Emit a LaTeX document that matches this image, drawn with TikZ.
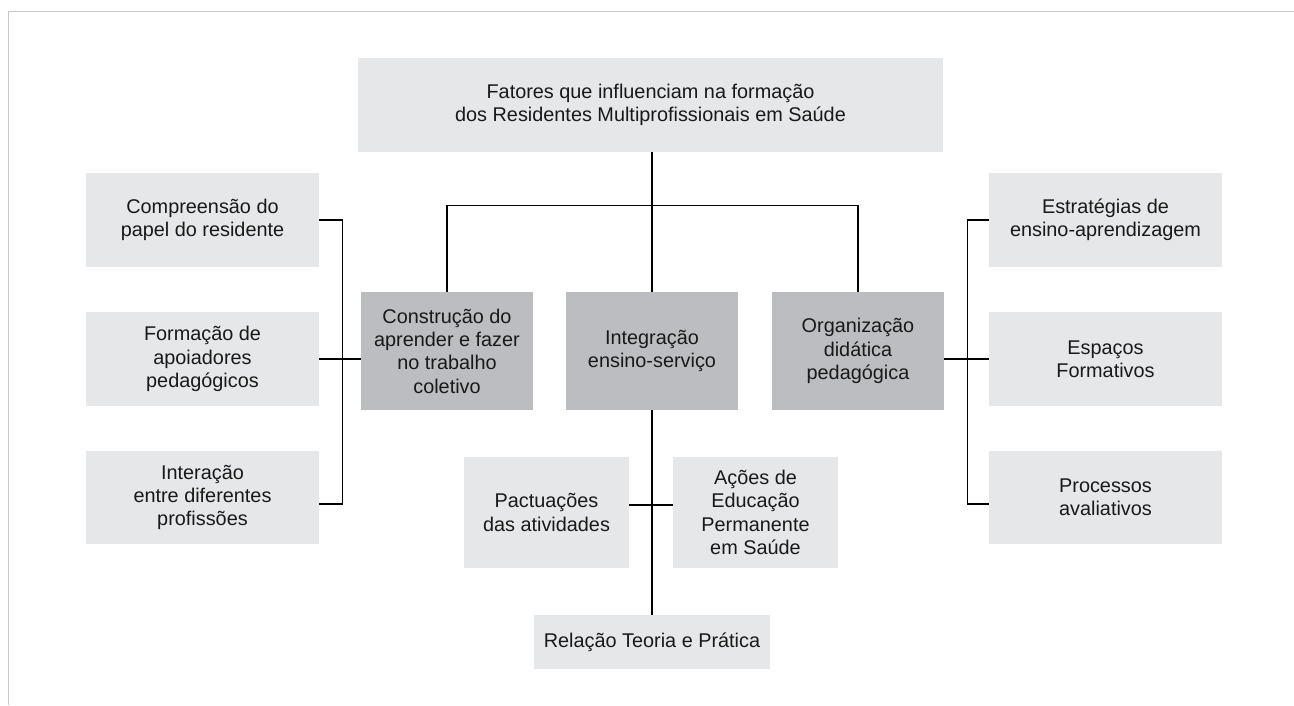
\documentclass[tikz,border=0pt]{standalone}
\usepackage{fontspec}
\setmainfont{Liberation Sans}
\definecolor{boxlight}{HTML}{E6E7E8}
\definecolor{boxdark}{HTML}{BCBDC0}
\definecolor{framegray}{HTML}{C8C8C8}
\tikzset{
  box/.style={rectangle, align=center, inner sep=0pt, text=black!90, font=\fontsize{11.3}{13.3}\selectfont},
  light/.style={box, fill=boxlight},
  dark/.style={box, fill=boxdark, minimum width=3.44cm, minimum height=2.36cm},
  side/.style={light, minimum width=4.66cm, minimum height=1.87cm},
  link/.style={draw, line width=0.7pt, black}
}
\begin{document}
\begin{tikzpicture}
      \useasboundingbox (0,0) rectangle (25.88,-14.1);
      \draw[framegray, line width=0.9pt] (0.17,-14.1) -- (0.17,-0.23) -- (25.88,-0.23);
      \node[light, minimum width=11.7cm, minimum height=1.88cm] (1) at (13.01,-2.10) {Fatores que influenciam na formação\\dos Residentes Multiprofissionais em Saúde};
      \node[dark] (2) at (8.94,-7.02) {Construção do\\aprender e fazer\\no trabalho\\coletivo};
      \node[dark] (3) at (13.04,-7.02) {Integração\\ensino-serviço};
      \node[dark] (4) at (17.16,-7.02) {Organização\\didática\\pedagógica};
      \node[side] (5) at (4.05,-4.40) {Compreensão do\\papel do residente};
      \node[side] (6) at (4.05,-7.18) {Formação de\\apoiadores\\pedagógicos};
      \node[side] (7) at (4.05,-9.95) {Interação\\entre diferentes\\profissões};
      \node[side] (8) at (22.11,-4.40) {Estratégias de\\ensino-aprendizagem};
      \node[side] (9) at (22.11,-7.18) {Espaços\\Formativos};
      \node[side] (10) at (22.11,-9.95) {Processos\\avaliativos};
      \node[light, minimum width=3.3cm, minimum height=2.21cm] (11) at (10.93,-10.25) {Pactuações\\das atividades};
      \node[light, minimum width=3.3cm, minimum height=2.21cm] (12) at (15.11,-10.25) {Ações de\\Educação\\Permanente\\em Saúde};
      \node[light, minimum width=4.72cm, minimum height=1.08cm] (13) at (13.04,-12.84) {Relação Teoria e Prática};
      \coordinate (bar) at (13.04,-4.11);
      \path[link] (3.north |- 1.south) -- (3.north);
      \path[link] (2.north) |- (bar) -| (4.north);
      \path[link] (3.south) -- (13.north);
      \path[link] (5.east) -- ++(0.46,0) |- ([yshift=-0.13cm]7.east);
      \path[link] (6.east) -- (6.east -| 2.west);
      \path[link] (8.west) -- ++(-0.42,0) |- ([yshift=-0.13cm]10.west);
      \path[link] (9.west) -- (9.west -| 4.east);
      \path[link] ([yshift=0.15cm]11.east) -- ([yshift=0.15cm]12.west);
    \end{tikzpicture}
\end{document}
